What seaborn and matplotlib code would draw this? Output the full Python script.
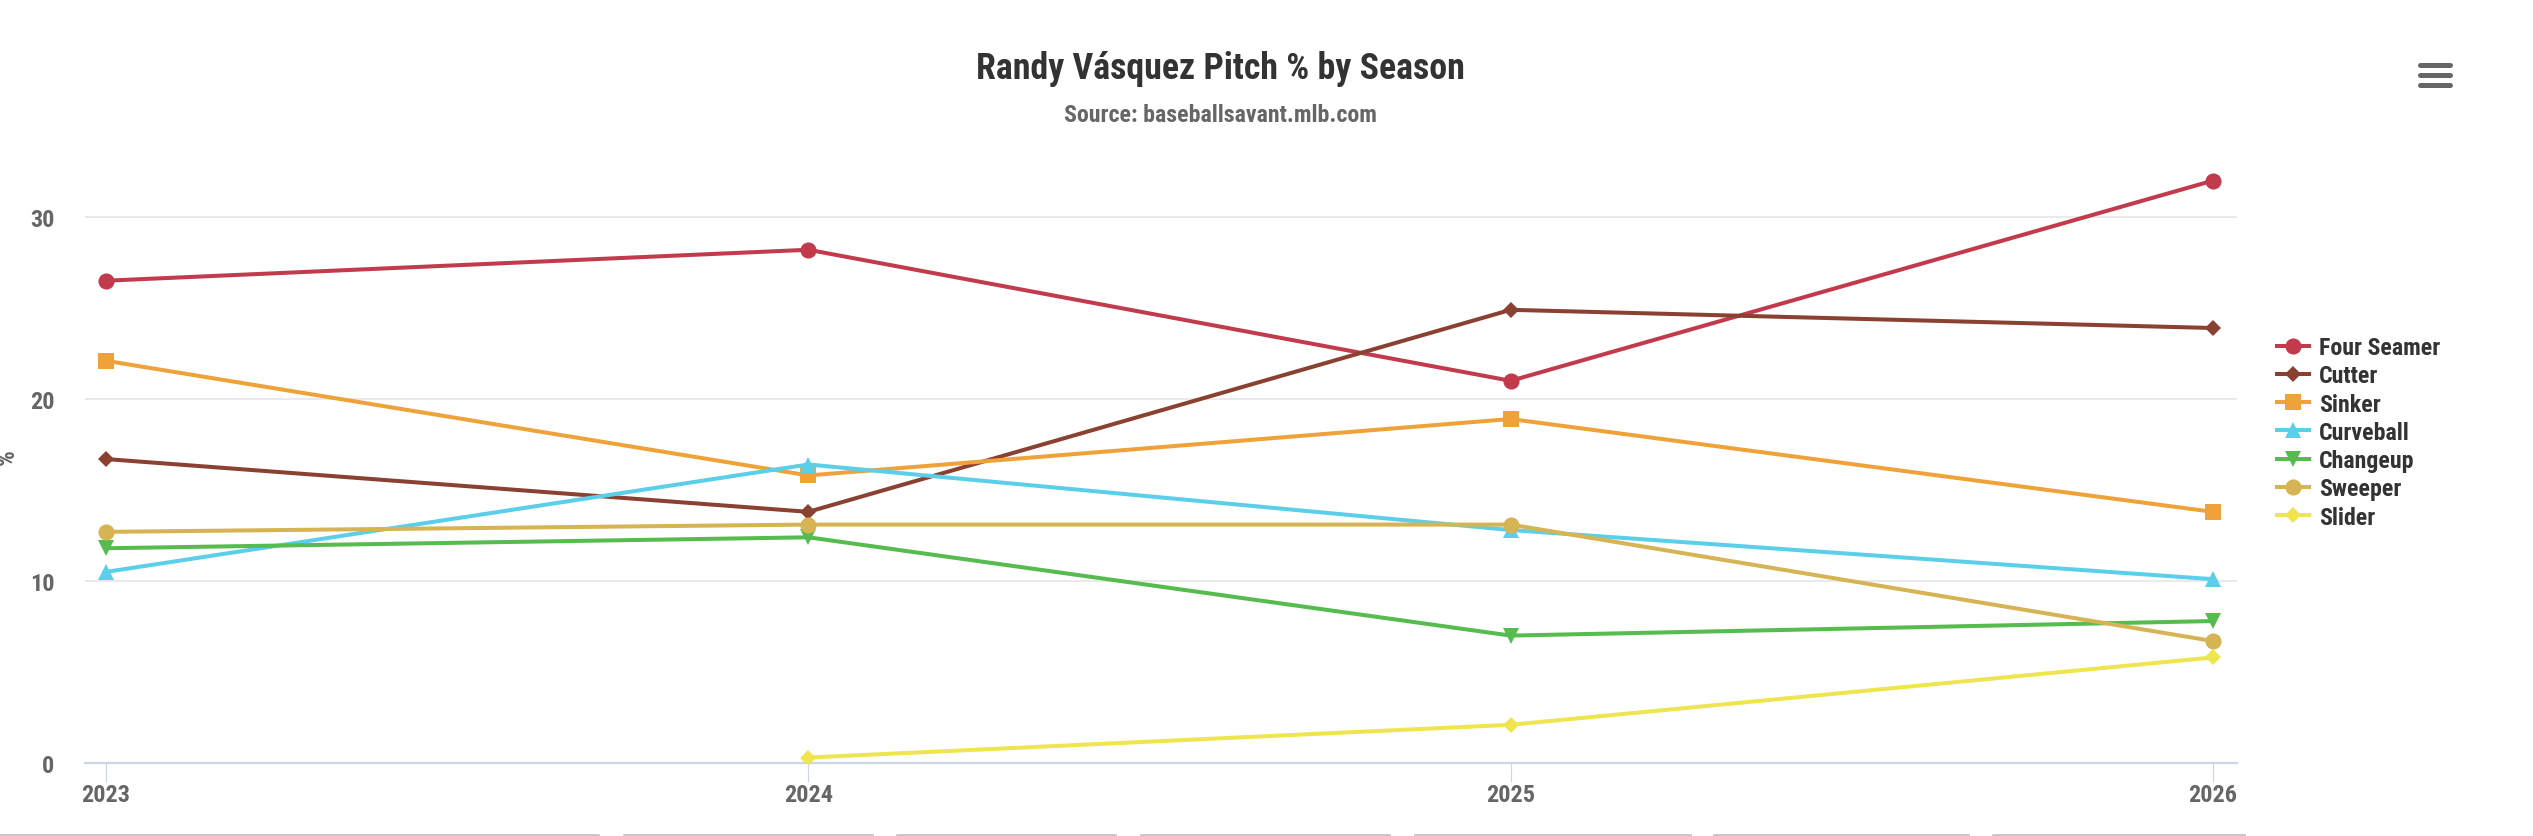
import numpy as np
import pandas as pd
import matplotlib
matplotlib.use("Agg")
import matplotlib.pyplot as plt
from matplotlib import font_manager as fm
from matplotlib.lines import Line2D
import seaborn as sns

# ---------------- data ----------------
seasons = [2023, 2024, 2025, 2026]
pitch_names = ["Four Seamer", "Cutter", "Sinker", "Curveball", "Changeup", "Sweeper", "Slider"]
four_seamer = [26.5, 28.2, 21.0, 32.0]
cutter = [16.7, 13.8, 24.9, 23.9]
sinker = [22.1, 15.8, 18.9, 13.8]
curveball = [10.5, 16.4, 12.8, 10.1]
changeup = [11.8, 12.4, 7.0, 7.8]
sweeper = [12.7, 13.1, 13.1, 6.7]
slider = [np.nan, 0.3, 2.1, 5.8]
y_ticks = [0, 10, 20, 30]
title_text = "Randy Vásquez Pitch % by Season"
subtitle_text = "Source: baseballsavant.mlb.com"
y_label = "%"

series = [four_seamer, cutter, sinker, curveball, changeup, sweeper, slider]
colors = ["#C13B4C", "#8B4131", "#F0A23A", "#5BCFEA", "#56BC4F", "#D6B454", "#EEE54F"]
markers = ["o", "D", "s", "^", "v", "o", "D"]
msizes = [11.6, 8.0, 11.4, 12.0, 12.0, 11.6, 8.0]

df = pd.DataFrame({
    "Season": np.tile(seasons, len(pitch_names)),
    "Pitch": np.repeat(pitch_names, len(seasons)),
    "Pct": np.concatenate([np.asarray(s, dtype=float) for s in series]),
})


def pick(fams):
    for f in fams:
        try:
            fm.findfont(fm.FontProperties(family=f, weight="bold"), fallback_to_default=False)
            return f
        except Exception:
            pass
    return "DejaVu Sans"


FONT = pick(["Roboto Condensed", "Liberation Sans Narrow", "Roboto"])
plt.rcParams["font.family"] = [FONT, "DejaVu Sans"]

W, H = 2533, 837
fig = plt.figure(figsize=(W / 100, H / 100), dpi=100)
fig.patch.set_facecolor("white")

# plot area in pixel coordinates
left_px, right_px, top_px, bottom_px = 85, 2237, 150, 764
ax = fig.add_axes([left_px / W, (H - bottom_px) / H, (right_px - left_px) / W, (bottom_px - top_px) / H])

px_per_unit = 18.2
px_per_year = 702.3

for name, col, mk, ms in zip(pitch_names, colors, markers, msizes):
    sub = df[df["Pitch"] == name].dropna()
    sns.lineplot(data=sub, x="Season", y="Pct", ax=ax, color=col, marker=mk,
                 markersize=ms, markeredgewidth=0, linewidth=2.9, label=name,
                 zorder=3)

ax.set_xlim(seasons[0] - (106 - left_px) / px_per_year, seasons[-1] + (right_px - 2213) / px_per_year)
ax.set_ylim(0, (bottom_px - top_px) / px_per_unit)
ax.set_xticks(seasons)
ax.set_xticklabels([str(s) for s in seasons])
ax.set_yticks(y_ticks)
ax.set_yticklabels([str(t) for t in y_ticks])
ax.set_xlabel("")
ax.set_ylabel("")

for s in ["top", "right", "left"]:
    ax.spines[s].set_visible(False)
ax.spines["bottom"].set_color("#ccd6eb")
ax.spines["bottom"].set_linewidth(1.6)
ax.yaxis.grid(True, color="#e6e6e6", linewidth=1.2)
ax.xaxis.grid(False)
ax.set_axisbelow(True)
ax.set_facecolor("white")

ax.tick_params(axis="x", length=13.7, width=0.8, color="#ccd6eb", pad=1,
               labelsize=17.5, labelcolor="#666666")
ax.tick_params(axis="y", length=0, pad=22, labelsize=17.5, labelcolor="#666666")
for lab in ax.get_xticklabels() + ax.get_yticklabels():
    lab.set_fontweight("bold")

# legend
handles, labels = ax.get_legend_handles_labels()
leg = ax.legend(handles, labels, loc="upper left",
                bbox_to_anchor=(2277 / W, 1 - 337 / H), bbox_transform=fig.transFigure,
                frameon=False, borderpad=0, borderaxespad=0, handlelength=1.35,
                handletextpad=0.42, labelspacing=0.22,
                prop=dict(family=[FONT, "DejaVu Sans"], weight="bold", size=17.2))
for t in leg.get_texts():
    t.set_color("#333333")

# titles
fig.text(1220 / W, 1 - 69 / H, title_text, ha="center", va="center",
         fontsize=25.8, fontweight="bold", color="#333333")
fig.text(1220 / W, 1 - 116 / H, subtitle_text, ha="center", va="center",
         fontsize=17.2, fontweight="bold", color="#666666")

# y axis title (partly clipped at the left edge)
fig.text(7 / W, 1 - 457 / H, y_label, ha="center", va="center", rotation=90,
         fontsize=18, fontweight="bold", color="#666666")

# context menu icon
for yy in [66, 76, 86]:
    fig.add_artist(Line2D([2420 / W, 2450 / W], [1 - yy / H, 1 - yy / H],
                          transform=fig.transFigure, color="#666666", linewidth=3.6,
                          solid_capstyle="round"))

# range-selector tabs peeking at the bottom edge
tabs = [(0, 598), (624, 872), (897, 1115), (1141, 1389), (1415, 1690), (1714, 1968), (1993, 2244)]
for a, b in tabs:
    fig.add_artist(Line2D([a / W, b / W], [1 - 835.5 / H, 1 - 835.5 / H],
                          transform=fig.transFigure, color="#c8c8c8", linewidth=2.2,
                          solid_capstyle="round"))

fig.savefig("out.png", dpi=100, facecolor="white")
